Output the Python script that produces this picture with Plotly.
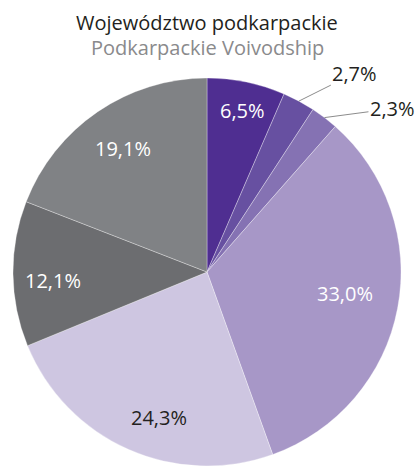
import math
import plotly.graph_objects as go

# Shares of the seven categories, clockwise from 12 o'clock (percent)
values = [6.5, 2.7, 2.3, 33.0, 24.3, 12.1, 19.1]
slice_colors = ["#4f2e91", "#6750a1", "#8572b3", "#a797c7", "#cec6e1", "#6c6d70", "#808285"]
label_colors = ["#ffffff", "#231f20", "#231f20", "#ffffff", "#231f20", "#ffffff", "#ffffff"]

title_text = "Województwo podkarpackie"
subtitle_text = "Podkarpackie Voivodship"

W, H = 419, 466
TOP = 78                     # top margin (plot area starts here)
CX, CY, R = 207, 272, 194    # pie centre and radius in page pixels
FONT = "Open Sans, Noto Sans, sans-serif"

# inside labels: radial position (fraction of radius) and angular nudge (degrees)
label_radius = [0.855, None, None, 0.72, 0.79, 0.795, 0.77]
label_nudge = [0.8, 0, 0, -1.8, -5.7, -2.5, 0.2]
# outside labels: pixel offset of the text from the slice edge
outside_offset = {1: (56, -28), 2: (68, -9)}

text_labels = [f"{v:.1f}".replace(".", ",") + "%" for v in values]


def to_paper(px, py):
    return px / W, (H - py) / (H - TOP)


fig = go.Figure(go.Pie(
    values=values,
    sort=False,
    direction="clockwise",
    rotation=0,
    marker=dict(colors=slice_colors, line=dict(color="rgba(255,255,255,0.45)", width=0.7)),
    textinfo="none",
    hoverinfo="skip",
    domain=dict(x=[(CX - R) / W, (CX + R) / W], y=[0, 1]),
    showlegend=False,
))

annotations = []
total = sum(values)
cum = 0.0
for i, v in enumerate(values):
    mid = (cum + v / 2) / total * 2 * math.pi
    cum += v
    if label_radius[i] is not None:
        ang = mid + math.radians(label_nudge[i])
        rr = label_radius[i] * R
        x, y = to_paper(CX + rr * math.sin(ang), CY - rr * math.cos(ang))
        annotations.append(dict(
            x=x, y=y, xref="paper", yref="paper", text=text_labels[i], showarrow=False,
            font=dict(family=FONT, size=20, color=label_colors[i]),
            xanchor="center", yanchor="middle",
        ))
    else:
        x, y = to_paper(CX + R * math.sin(mid), CY - R * math.cos(mid))
        ax, ay = outside_offset[i]
        annotations.append(dict(
            x=x, y=y, xref="paper", yref="paper", text=text_labels[i],
            showarrow=True, arrowhead=0, arrowwidth=1, arrowcolor="#8c8c8c",
            ax=ax, ay=ay, standoff=0,
            font=dict(family=FONT, size=20, color=label_colors[i]),
        ))

# two-line heading
tx, ty = to_paper(207, 22)
annotations.append(dict(x=tx, y=ty, xref="paper", yref="paper", text=title_text, showarrow=False,
                        font=dict(family=FONT, size=20, color="#231f20"),
                        xanchor="center", yanchor="middle"))
sx, sy = to_paper(207, 47)
annotations.append(dict(x=sx, y=sy, xref="paper", yref="paper", text=subtitle_text, showarrow=False,
                        font=dict(family=FONT, size=20, color="#8a8a8c"),
                        xanchor="center", yanchor="middle"))

fig.update_layout(
    width=W, height=H,
    margin=dict(l=0, r=0, t=TOP, b=0),
    paper_bgcolor="white", plot_bgcolor="white",
    annotations=annotations,
)

fig.write_html("out.html")
